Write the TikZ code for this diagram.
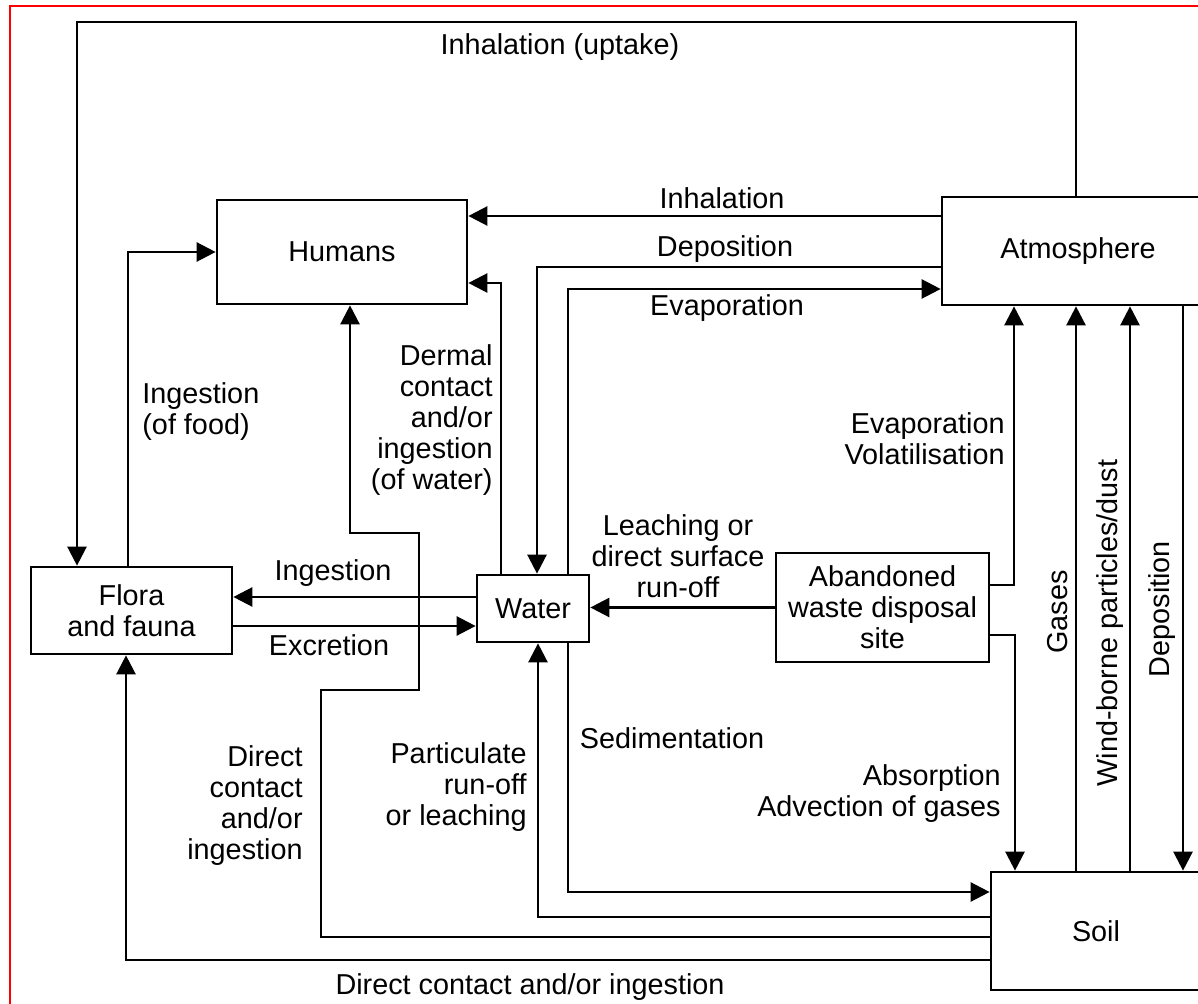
\documentclass[tikz,border=0pt]{standalone}
\usepackage{fontspec}
\setmainfont{Liberation Sans}
\usetikzlibrary{arrows.meta,calc}
\newcommand\lab{\fontsize{14.4}{15.5}\selectfont}
\tikzset{
  box/.style={draw, line width=1.35pt, inner sep=0pt, align=center, font=\lab},
  conn/.style={line width=1.25pt, -{Triangle[length=9.5pt,width=9.5pt]}},
  lbl/.style={inner sep=0pt, font=\lab, align=center}
}
\begin{document}
\begin{tikzpicture}[x=0.5pt,y=-0.5pt]
\useasboundingbox (0,0) rectangle (1198,1004);
\clip (0,0) rectangle (1198,1004);
\fill[white] (0,0) rectangle (1198,1004);
\draw[red, line width=1.2pt] (10,6) rectangle (1230,1030);

% boxes
\node[box, minimum width=125pt, minimum height=52pt] (Humans) at (342,252) {Humans};
\node[box, minimum width=136pt, minimum height=54pt] (Atm) at (1078,251) {Atmosphere};
\node[box, minimum width=100.5pt, minimum height=43.5pt] (Flora) at (131.5,610.5) {Flora\\and fauna};
\node[box, minimum width=56pt, minimum height=33.5pt] (Water) at (533,608.5) {Water};
\node[box, minimum width=106.5pt, minimum height=54.5pt] (Waste) at (882.5,607.5) {Abandoned\\waste disposal\\site};
\node[box, minimum width=105pt, minimum height=59pt] (Soil) at (1096,931) {Soil};

% helper coordinates
\coordinate (t1) at (1076,22); \coordinate (t2) at (77,22);
\coordinate (h1) at (0,216);
\coordinate (d1) at (537,267);
\coordinate (e1) at (568,289);
\coordinate (m1) at (501,283);
\coordinate (f1) at (128,252);
\coordinate (i1) at (0,597);
\coordinate (x1) at (0,626);
\coordinate (v1) at (1014,585);
\coordinate (a1) at (1015,635);
\coordinate (g1) at (1076,0);
\coordinate (w1) at (1130,0);
\coordinate (p1) at (1183,0);
\coordinate (s1) at (568,892);
\coordinate (r1) at (538,917);
\coordinate (k1) at (321,937); \coordinate (k2) at (321,690);
\coordinate (k3) at (419,690); \coordinate (k4) at (419,533);
\coordinate (k5) at (350,533);
\coordinate (q1) at (126,960);

% connectors
\draw[conn] (Atm.north -| t1) -- (t1) -- (t2) -- (Flora.north -| t2);
\draw[conn] (Atm.west |- h1) -- (Humans.east |- h1);
\draw[conn] (Atm.west |- d1) -- (d1) -- (Water.north -| d1);
\draw[conn] (Water.north -| e1) -- (e1) -- (Atm.west |- e1);
\draw[conn] (Water.north -| m1) -- (m1) -- (Humans.east |- m1);
\draw[conn] (Flora.north -| f1) -- (f1) -- (Humans.west |- f1);
\draw[conn] (Water.west |- i1) -- (Flora.east |- i1);
\draw[conn] (Flora.east |- x1) -- (Water.west |- x1);
\draw[conn] (Waste.west) -- (Water.east |- Waste.west);
\draw[conn] (Waste.east |- v1) -- (v1) -- (Atm.south -| v1);
\draw[conn] (Waste.east |- a1) -- (a1) -- (Soil.north -| a1);
\draw[conn] (Soil.north -| g1) -- (Atm.south -| g1);
\draw[conn] (Soil.north -| w1) -- (Atm.south -| w1);
\draw[conn] (Atm.south -| p1) -- (Soil.north -| p1);
\draw[conn] (Water.south -| s1) -- (s1) -- (Soil.west |- s1);
\draw[conn] (Soil.west |- r1) -- (r1) -- (Water.south -| r1);
\draw[conn] (Soil.west |- k1) -- (k1) -- (k2) -- (k3) -- (k4) -- (k5) -- (Humans.south -| k5);
\draw[conn] (Soil.west |- q1) -- (q1) -- (Flora.south -| q1);

% labels
\node[lbl] (L1) at (560,47) {Inhalation (uptake)};
\node[lbl] (L2) at (722,198) {Inhalation};
\node[lbl] (L3) at (725,249) {Deposition};
\node[lbl] (L4) at (727,308) {Evaporation};
\node[lbl, anchor=east, align=right] (L5) at (493,420) {Dermal\\contact\\and/or\\ingestion\\(of water)};
\node[lbl, anchor=west, align=left] (L6) at (142,412) {Ingestion\\(of food)};
\node[lbl] (L7) at (333,573) {Ingestion};
\node[lbl] (L8) at (329,645) {Excretion};
\node[lbl] (L9) at (678,556) {Leaching or\\direct surface\\run-off};
\node[lbl, anchor=east, align=right] (L10) at (1005,439) {Evaporation\\Volatilisation};
\node[lbl, anchor=east, align=right] (L11) at (1001,794) {Absorption\\Advection of gases};
\node[lbl, rotate=90] (L12) at (1058,612) {Gases};
\node[lbl, rotate=90] (L13) at (1110,623) {Wind-borne particles/dust};
\node[lbl, rotate=90] (L14) at (1162,609) {Deposition};
\node[lbl] (L15) at (672,738) {Sedimentation};
\node[lbl, anchor=east, align=right] (L16) at (527,787) {Particulate\\run-off\\or leaching};
\node[lbl, anchor=east, align=right] (L17) at (303,806) {Direct\\contact\\and/or\\ingestion};
\node[lbl] (L18) at (530,987) {Direct contact and/or ingestion};
\end{tikzpicture}
\end{document}
